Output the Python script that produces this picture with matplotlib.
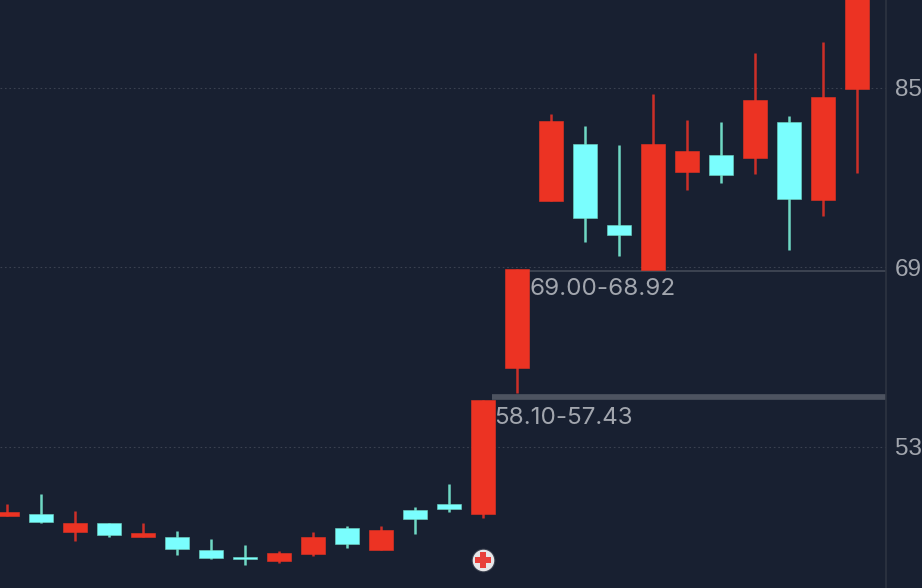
import matplotlib
matplotlib.use('Agg')
import matplotlib.pyplot as plt

plt.rcParams['font.family'] = ['Liberation Sans', 'DejaVu Sans']

# candle data
opens = [46.81, 46.99, 45.38, 46.21, 44.94, 44.91, 43.75, 43.16, 42.83, 43.40, 45.77, 43.78, 47.37,
         47.91, 47.01, 60.00, 74.86, 79.94, 72.75, 68.73, 77.44, 79.01, 78.72, 81.95, 75.00, 84.89]
closes = [47.17, 46.25, 46.21, 45.14, 45.27, 43.84, 43.09, 42.98, 43.48, 44.91, 44.34, 45.53, 46.57,
          47.41, 57.15, 68.80, 81.99, 73.34, 71.88, 79.94, 79.34, 77.17, 83.89, 75.04, 84.13, 95.00]
highs = [47.88, 48.77, 47.23, 46.21, 46.19, 45.45, 44.73, 44.22, 43.69, 45.36, 45.92, 45.94, 47.58,
         49.66, 57.15, 68.80, 82.64, 81.57, 79.85, 84.42, 82.10, 81.93, 88.10, 82.43, 89.03, 97.00]
lows = [46.81, 46.16, 44.61, 44.96, 44.94, 43.36, 43.00, 42.44, 42.59, 43.27, 43.93, 43.78, 45.23,
        47.14, 46.60, 57.80, 74.86, 71.23, 70.01, 68.73, 75.89, 76.46, 77.26, 70.52, 73.55, 77.41]

y_ticks = [85, 69, 53]
level_upper = 68.66
level_lower = 57.42
label_upper = '69.00-68.92'
label_lower = '58.10-57.43'
signal_index = 14
signal_price = 42.85

bg = '#182031'
red = '#ec3323'
red_wick = '#cc2f28'
cyan = '#7afefe'
cyan_wick = '#6fd8c4'
text_c = '#a2a6ae'

fig = plt.figure(figsize=(9.22, 5.88), dpi=100, facecolor=bg)
ax = fig.add_axes([0, 0, 886 / 922, 1], facecolor=bg)

ax.set_xlim((0 - 6.6) / 34, (886 - 6.6) / 34)
ax.set_ylim(40.39, 92.80)

for t in y_ticks:
    ax.axhline(t, color='#3a4150', lw=0.8, ls=(0, (1.5, 2.5)), zorder=1)

x = list(range(len(opens)))
for i in x:
    up = closes[i] >= opens[i]
    ax.vlines(i, lows[i], highs[i], color=red_wick if up else cyan_wick, lw=1.8, zorder=2)
    ax.bar(i, abs(closes[i] - opens[i]), bottom=min(opens[i], closes[i]), width=24 / 34,
           color=red if up else cyan, edgecolor=red if up else cyan_wick, lw=0.4, zorder=3)

# price levels and their labels
ax.hlines(level_upper, 15.1, 26, color='#3f4654', lw=1.3, zorder=2)
ax.hlines(level_lower, 14.27, 26, color='#4d5360', lw=4.1, zorder=2)
ax.text(15.38, 67.05, label_upper, color=text_c, fontsize=17.4, va='center', ha='left',
        family=['Inter', 'DejaVu Sans'])
ax.text(14.35, 55.54, label_lower, color=text_c, fontsize=17.4, va='center', ha='left',
        family=['Inter', 'DejaVu Sans'])

# buy marker
ax.scatter([signal_index], [signal_price], s=290, c='#8d9096', linewidths=0, alpha=0.3, zorder=4)
ax.scatter([signal_index], [signal_price], s=240, c='#e6e6e8', linewidths=0, zorder=4)
ax.scatter([signal_index], [signal_price], s=125, c='#e8403a', marker='P', linewidths=0, zorder=5)

ax.yaxis.tick_right()
ax.set_yticks(y_ticks)
ax.set_yticklabels([str(t) for t in y_ticks], color=text_c, fontsize=17.5)
ax.tick_params(axis='y', length=0, pad=6.2)
ax.set_xticks([])

for s in ['top', 'left', 'bottom']:
    ax.spines[s].set_visible(False)
ax.spines['right'].set_color('#2d3441')
ax.spines['right'].set_linewidth(1.2)

fig.savefig('out.png', dpi=100, facecolor=bg)
